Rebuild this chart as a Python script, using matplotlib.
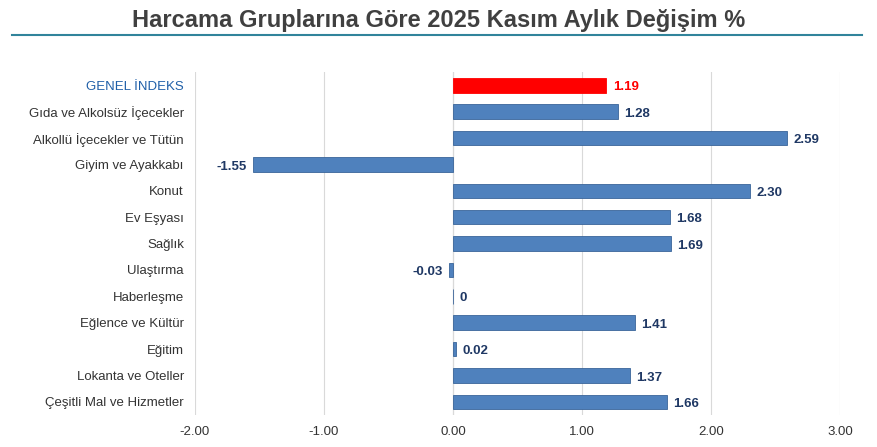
import matplotlib
matplotlib.use("Agg")
import matplotlib.pyplot as plt
from matplotlib.lines import Line2D

categories = ["GENEL İNDEKS", "Gıda ve Alkolsüz İçecekler", "Alkollü İçecekler ve Tütün",
              "Giyim ve Ayakkabı", "Konut", "Ev Eşyası", "Sağlık", "Ulaştırma",
              "Haberleşme", "Eğlence ve Kültür", "Eğitim", "Lokanta ve Oteller",
              "Çeşitli Mal ve Hizmetler"]
values = [1.19, 1.28, 2.59, -1.55, 2.30, 1.68, 1.69, -0.03, 0.0, 1.41, 0.02, 1.37, 1.66]
labels = ["1.19", "1.28", "2.59", "-1.55", "2.30", "1.68", "1.69", "-0.03", "0",
          "1.41", "0.02", "1.37", "1.66"]
ticks = [-2, -1, 0, 1, 2, 3]

plt.rcParams["font.family"] = ["Liberation Sans", "DejaVu Sans"]
fig = plt.figure(figsize=(8.77, 4.47), dpi=100)
ax = fig.add_axes([0.2223, 0.0716, 0.7355, 0.767])

blue = "#4F81BD"
navy = "#1F3864"
y = list(range(len(categories)))
colors = ["#FF0000"] + [blue] * (len(categories) - 1)
ax.barh(y, values, height=0.55, color=colors, edgecolor=["#FF0000"] + ["#3A659A"] * 12,
        linewidth=0.6, zorder=3)
for i, (v, t) in enumerate(zip(values, labels)):
    c = "#FF0000" if i == 0 else navy
    if v < 0:
        ax.text(v - 0.05, i + 0.08, t, ha="right", va="center", fontsize=9.5,
                fontweight="bold", color=c)
    else:
        ax.text(v + 0.05, i + 0.08, t, ha="left", va="center", fontsize=9.5,
                fontweight="bold", color=c)

ax.set_xlim(-2, 3)
ax.set_ylim(len(categories) - 0.5, -0.5)
ax.set_xticks(ticks)
ax.set_xticklabels([f"{t:.2f}" for t in ticks], fontsize=9.5, color="#333333")
ax.set_yticks(y)
ax.set_yticklabels(categories, fontsize=9.5, color="#333333")
ax.get_yticklabels()[0].set_color("#1F5FA8")
ax.tick_params(length=0, pad=8)
ax.grid(axis="x", color="#D9D9D9", linewidth=0.8, zorder=0)
ax.axvline(0, color="#BFBFBF", linewidth=0.8, zorder=1)
for s in ax.spines.values():
    s.set_visible(False)

fig.text(0.5, 0.955, "Harcama Gruplarına Göre 2025 Kasım Aylık Değişim %", ha="center",
         va="center", fontsize=17, fontweight="bold", color="#404040")
fig.add_artist(Line2D([0.014, 0.983], [0.922, 0.922], transform=fig.transFigure,
                      color="#31849B", linewidth=1.5))

fig.savefig("out.png", dpi=100)
